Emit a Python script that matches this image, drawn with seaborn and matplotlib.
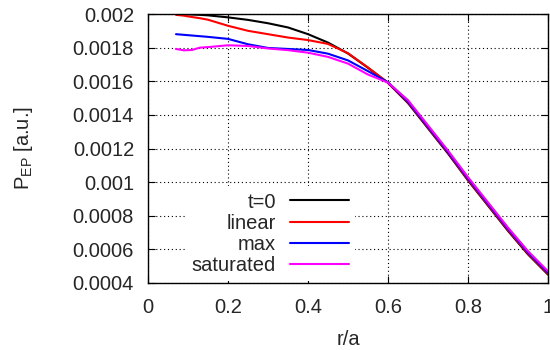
import matplotlib
matplotlib.use('Agg')
import pandas as pd
import seaborn as sns
import matplotlib.pyplot as plt

# radial grid r/a
r = [0.07, 0.09, 0.11, 0.13, 0.15, 0.2, 0.25, 0.3, 0.35, 0.4, 0.45,
     0.5, 0.55, 0.6, 0.65, 0.7, 0.75, 0.8, 0.85, 0.9, 0.95, 1.0]

# EP pressure profiles [a.u.]
p_t0 = [0.002, 0.001999, 0.001997, 0.001995, 0.001992, 0.00198, 0.001965, 0.001945,
        0.00192, 0.00188, 0.00183, 0.001765, 0.00168, 0.00159, 0.00147, 0.00132,
        0.00117, 0.00101, 0.00086, 0.00071, 0.00057, 0.00045]
p_linear = [0.001995, 0.00199, 0.001982, 0.001975, 0.001966, 0.00193, 0.0019, 0.00188,
            0.00186, 0.001845, 0.001822, 0.001767, 0.001682, 0.001592, 0.001475, 0.001325,
            0.001175, 0.001015, 0.000865, 0.000715, 0.000575, 0.000455]
p_max = [0.00188, 0.001876, 0.001872, 0.001868, 0.001864, 0.001852, 0.00182, 0.001798,
         0.001792, 0.001786, 0.001764, 0.001724, 0.00166, 0.001594, 0.00148, 0.00133,
         0.00118, 0.001022, 0.000872, 0.000722, 0.000582, 0.000462]
p_sat = [0.001792, 0.001784, 0.001786, 0.0018, 0.001803, 0.001814, 0.00181, 0.001795,
         0.001785, 0.00177, 0.001745, 0.001705, 0.00164, 0.001592, 0.001488, 0.001338,
         0.001188, 0.00103, 0.00088, 0.00073, 0.00059, 0.00047]

labels = ['t=0', 'linear', 'max', 'saturated']
colors = ['#000000', '#ff0000', '#0000ff', '#ff00ff']

xticks = [0, 0.2, 0.4, 0.6, 0.8, 1.0]
xticklabels = ['0', '0.2', '0.4', '0.6', '0.8', '1']
yticks = [0.0004, 0.0006, 0.0008, 0.001, 0.0012, 0.0014, 0.0016, 0.0018, 0.002]
yticklabels = ['0.0004', '0.0006', '0.0008', '0.001', '0.0012', '0.0014', '0.0016', '0.0018', '0.002']

df = pd.concat([pd.DataFrame({'r': r, 'P': p, 'case': lab})
                for p, lab in zip([p_t0, p_linear, p_max, p_sat], labels)])

sns.set_style('ticks', {'xtick.direction': 'in', 'ytick.direction': 'in'})
plt.rcParams['font.family'] = ['Liberation Sans', 'DejaVu Sans']
plt.rcParams['mathtext.default'] = 'regular'
fs = 14.5

fig = plt.figure(figsize=(5.5, 3.5), dpi=100)
ax = fig.add_axes([148 / 550, 1 - 283 / 350, 400 / 550, 269 / 350])

sns.lineplot(data=df, x='r', y='P', hue='case', hue_order=labels, palette=colors,
             sort=False, linewidth=1.5, legend=False, ax=ax)

ax.set_xlim(0, 1)
ax.set_ylim(0.0004, 0.002)
ax.set_xticks(xticks)
ax.set_xticklabels(xticklabels, fontsize=fs)
ax.set_yticks(yticks)
ax.set_yticklabels(yticklabels, fontsize=fs)
ax.tick_params(direction='in', length=5, width=0.8, top=True, right=True, color='black')
ax.tick_params(axis='y', pad=10)
ax.tick_params(axis='x', pad=11)
ax.grid(True, color='black', linestyle=(0, (1, 2.5)), linewidth=0.8)
for s in ax.spines.values():
    s.set_color('black')
    s.set_linewidth(1.0)

ax.set_xlabel('r/a', fontsize=fs)
ax.set_ylabel('P$_{EP}$ [a.u.]', fontsize=fs)
ax.xaxis.set_label_coords(0.5, -0.175)
ax.yaxis.set_label_coords(-0.2825, 0.5)

leg = ax.legend(ax.lines, labels, loc='lower right', bbox_to_anchor=(0.5165, 0.0056),
                borderaxespad=0, borderpad=0.3, markerfirst=False, fontsize=fs,
                handlelength=2.9, handletextpad=0.7, labelspacing=0.115,
                frameon=True, fancybox=False, framealpha=1)
leg.get_frame().set_edgecolor('none')
leg.get_frame().set_facecolor('white')

fig.savefig('out.png', dpi=100)
